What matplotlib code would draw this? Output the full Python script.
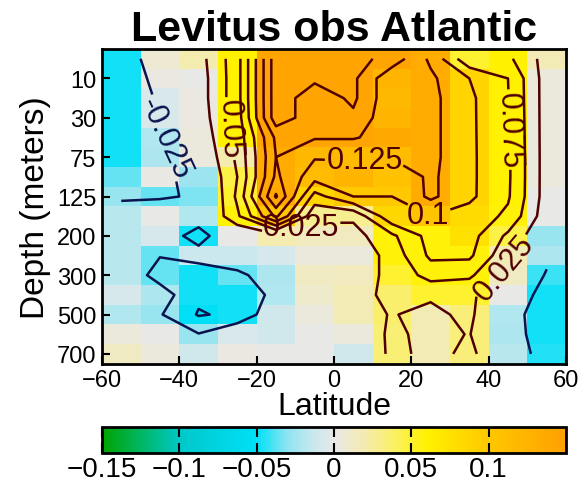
import matplotlib
matplotlib.use("Agg")
import matplotlib.pyplot as plt
import numpy as np
from matplotlib.colors import LinearSegmentedColormap

plt.rcParams['font.family'] = ['Liberation Sans', 'DejaVu Sans']

# latitude bins (10 deg) and standard depth levels (m)
lat_edges = [-60, -50, -40, -30, -20, -10, 0, 10, 20, 30, 40, 50, 60]
depths = [0, 10, 20, 30, 50, 75, 100, 125, 150, 200, 250, 300, 400, 500, 600, 700]
depth_ticks = [10, 30, 75, 125, 200, 300, 500, 700]

# shaded anomaly: one row per depth level, one column per latitude bin
r00 = [-0.048,  0.008,  0.020, 0.060, 0.145, 0.145, 0.145, 0.145, 0.135, 0.050, 0.060, 0.018]
r01 = [-0.048,  0.003,  0.000, 0.060, 0.145, 0.145, 0.145, 0.125, 0.135, 0.088, 0.060, 0.004]
r02 = [-0.048, -0.007,  0.003, 0.060, 0.145, 0.145, 0.145, 0.120, 0.135, 0.088, 0.060, 0.004]
r03 = [-0.048, -0.007,  0.003, 0.060, 0.145, 0.145, 0.145, 0.125, 0.135, 0.088, 0.060, 0.004]
r04 = [-0.048, -0.020,  0.004, 0.060, 0.145, 0.145, 0.145, 0.140, 0.135, 0.088, 0.060, 0.004]
r05 = [-0.048, -0.022,  0.004, 0.020, 0.135, 0.120, 0.115, 0.115, 0.135, 0.088, 0.060, 0.004]
r06 = [-0.036,  0.002, -0.026, 0.045, 0.135, 0.115, 0.125, 0.108, 0.135, 0.088, 0.060, 0.004]
r07 = [-0.028, -0.036, -0.032, 0.050, 0.140, 0.085, 0.100, 0.100, 0.135, 0.088, 0.060, 0.000]
r08 = [-0.018,  0.000, -0.020, 0.058, 0.100, 0.027, 0.027, 0.085, 0.105, 0.082, 0.058, 0.000]
r09 = [-0.018, -0.008, -0.048, 0.000, 0.020, 0.015, 0.015, 0.058, 0.058, 0.075, 0.045, -0.028]
r10 = [-0.018, -0.036, -0.012, -0.012, -0.008, 0.004, 0.004, 0.058, 0.058, 0.058, 0.018, -0.022]
r11 = [-0.018, -0.036, -0.048, -0.036, -0.022, 0.013, 0.015, 0.050, 0.058, 0.058, 0.013, -0.042]
r12 = [-0.008, -0.022, -0.048, -0.048, -0.020, 0.010, 0.018, 0.037, 0.050, 0.050, 0.000, -0.048]
r13 = [-0.020, -0.028, -0.052, -0.048, -0.010, 0.004, 0.018, 0.037, 0.018, 0.033, -0.020, -0.048]
r14 = [0.004,  0.000, -0.028, -0.007, -0.010, 0.000, 0.004, 0.035, 0.018, 0.033, -0.022, -0.048]
r15 = [0.013,  0.004, -0.010, 0.003, 0.000, 0.000, -0.010, 0.035, 0.018, 0.033, -0.018, -0.045]
field = np.array([r00, r01, r02, r03, r04, r05, r06, r07,
                  r08, r09, r10, r11, r12, r13, r14, r15])

# contoured anomaly at the bin centres (same layout as above)
k00 = [-0.035, -0.015,  0.015, 0.065, 0.190, 0.185, 0.185, 0.165, 0.120, 0.055, 0.055, 0.015]
k01 = [-0.035, -0.020,  0.012, 0.065, 0.190, 0.180, 0.180, 0.130, 0.130, 0.100, 0.075, 0.013]
k02 = [-0.035, -0.023,  0.012, 0.065, 0.190, 0.160, 0.180, 0.130, 0.132, 0.105, 0.076, 0.013]
k03 = [-0.035, -0.026,  0.010, 0.062, 0.190, 0.160, 0.170, 0.130, 0.132, 0.105, 0.077, 0.013]
k04 = [-0.035, -0.030,  0.005, 0.058, 0.155, 0.152, 0.152, 0.140, 0.132, 0.105, 0.078, 0.013]
k05 = [-0.035, -0.033, -0.002, 0.055, 0.150, 0.127, 0.127, 0.127, 0.132, 0.105, 0.079, 0.013]
k06 = [-0.035, -0.035, -0.010, 0.050, 0.155, 0.110, 0.115, 0.105, 0.130, 0.105, 0.079, 0.013]
k07 = [-0.027, -0.027, -0.023, 0.055, 0.178, 0.065, 0.100, 0.100, 0.130, 0.105, 0.078, 0.013]
k08 = [-0.018, -0.012, -0.012, 0.045, 0.130, 0.030, 0.030, 0.095, 0.100, 0.090, 0.070, 0.010]
k09 = [-0.018, -0.010, -0.035, 0.000, 0.015, 0.015, 0.015, 0.045, 0.085, 0.085, 0.045, 0.000]
k10 = [-0.012, -0.024, -0.015, 0.005, -0.010, 0.004, 0.005, 0.035, 0.080, 0.080, 0.030, -0.018]
k11 = [-0.005, -0.035, -0.040, -0.035, 0.000, 0.013, 0.015, 0.030, 0.060, 0.055, 0.015, -0.028]
k12 = [-0.005, -0.013, -0.045, -0.045, -0.017, 0.010, 0.018, 0.030, 0.028, 0.028, 0.012, -0.045]
k13 = [-0.012, -0.023, -0.052, -0.045, -0.005, 0.004, 0.018, 0.026, 0.020, 0.030, -0.008, -0.048]
k14 = [0.004, -0.005, -0.024, 0.000, -0.010, 0.000, 0.004, 0.030, 0.018, 0.026, -0.005, -0.048]
k15 = [0.012,  0.004, -0.010, 0.000, 0.000, 0.000, -0.010, 0.032, 0.018, 0.030, 0.004, -0.045]
cfield = np.array([k00, k01, k02, k03, k04, k05, k06, k07,
                   k08, k09, k10, k11, k12, k13, k14, k15])

cb_ticks = [-0.15, -0.1, -0.05, 0, 0.05, 0.1]
cb_labels = ['\u22120.15', '\u22120.1', '\u22120.05', '0', '0.05', '0.1']
levels = [-0.125, -0.1, -0.075, -0.05, -0.025,
          0.025, 0.05, 0.075, 0.1, 0.125, 0.15, 0.175]

# where the contour labels go (lat, level index) and how they are turned
label_at = [(-43.5, 4.0), (-28.5, 3.6), (8, 5.1), (23.5, 8.3),
            (-8.8, 8.4), (45, 3.6), (43, 10.5)]
label_rot = [-65, -88, 0, 0, 0, -88, 50]

vmin, vmax = -0.15, 0.15
stops = [(-0.15, '#00a400'), (-0.10, '#00c8c8'), (-0.05, '#00e0f8'),
         (-0.03, '#90e4f0'), (-0.015, '#c4e8ee'), (0.0, '#e8e8e8'),
         (0.02, '#f4ebb0'), (0.04, '#fbf060'), (0.06, '#fff200'),
         (0.10, '#ffc800'), (0.15, '#ffa000')]
cmap = LinearSegmentedColormap.from_list(
    'obs', [((v - vmin) / (vmax - vmin), c) for v, c in stops])

fig = plt.figure(figsize=(5.79, 4.85), dpi=100)
ax = fig.add_axes([0.176, 0.248, 0.8016, 0.649])

y_edges = np.arange(len(depths) + 1) - 0.5
mesh = ax.pcolormesh(lat_edges, y_edges, field, cmap=cmap, vmin=vmin, vmax=vmax)

lat_mid = 0.5 * (np.array(lat_edges[:-1]) + np.array(lat_edges[1:]))
yy = np.arange(len(depths))
line_cols = ['#0a1450' if l < 0 else '#500000' for l in levels]

ax.set_xlim(-60, 60)
ax.set_ylim(len(depths) - 0.5, -0.5)

cs = ax.contour(lat_mid, yy, cfield, levels=levels, colors=line_cols, linewidths=1.8)
labels = ax.clabel(cs, fmt='%g', fontsize=22, inline=True, inline_spacing=2,
                   manual=label_at)
for t, rot in zip(labels, label_rot):
    t.set_rotation(rot)

ax.set_xticks([-60, -40, -20, 0, 20, 40, 60])
ax.set_xticklabels(['\u221260', '\u221240', '\u221220', '0', '20', '40', '60'])
ax.set_yticks([depths.index(d) for d in depth_ticks])
ax.set_yticklabels([str(d) for d in depth_ticks])
ax.tick_params(direction='in', length=6, width=1.5, labelsize=17, pad=4)
for s in ax.spines.values():
    s.set_linewidth(2)
ax.set_xlabel('Latitude', fontsize=23, labelpad=0)
ax.set_ylabel('Depth (meters)', fontsize=24, labelpad=4)
ax.set_title('Levitus obs Atlantic', fontsize=31, fontweight='bold', pad=4)

cax = fig.add_axes([0.176, 0.063, 0.8016, 0.055])
cb = fig.colorbar(mesh, cax=cax, orientation='horizontal')
cb.set_ticks(cb_ticks)
cb.set_ticklabels(cb_labels)
cb.ax.tick_params(direction='in', length=7, width=1.5, labelsize=20,
                  top=True, bottom=True, pad=2)
cb.outline.set_linewidth(2)

fig.savefig('out.png', dpi=100)
